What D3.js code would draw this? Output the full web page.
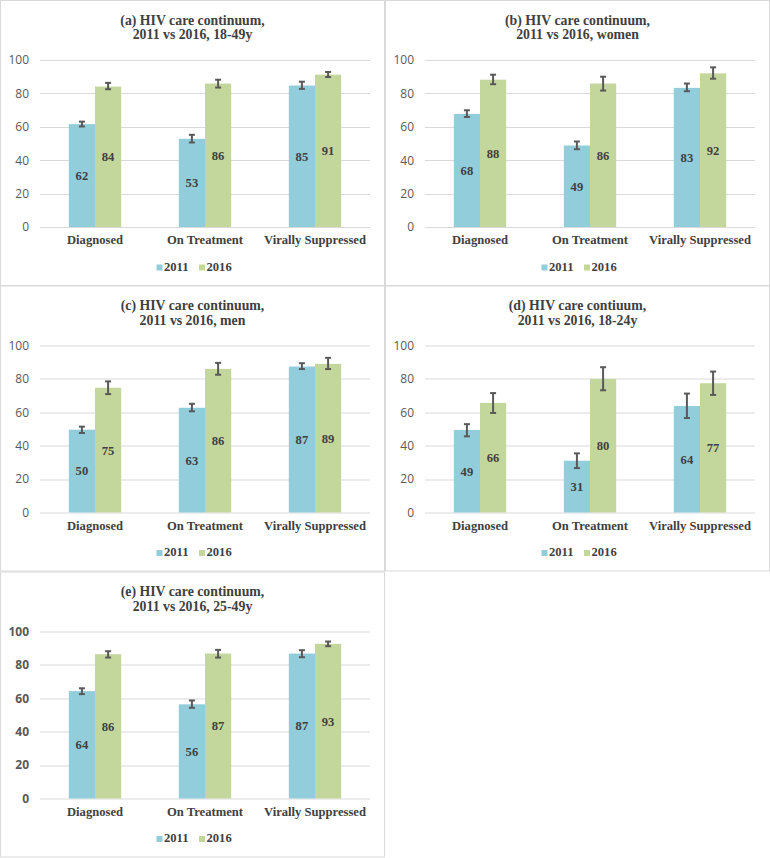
<!DOCTYPE html>
<html>
<head>
<meta charset="utf-8">
<script src="https://cdn.jsdelivr.net/npm/d3@7"></script>
<style>
  html, body { margin: 0; padding: 0; background: #ffffff; }
  svg { display: block; }
</style>
</head>
<body>
<svg id="chart" width="770" height="858"></svg>
<script>
// ---------------- DATA ----------------
const categories = ["Diagnosed", "On Treatment", "Virally Suppressed"];
const seriesNames = ["2011", "2016"];
const yTicks = [0, 20, 40, 60, 80, 100];

const titlesLine1 = [
  "(a) HIV care continuum,",
  "(b) HIV care continuum,",
  "(c) HIV care continuum,",
  "(d) HIV care contiuum,",
  "(e) HIV care continuum,"
];
const titlesLine2 = [
  "2011 vs 2016, 18-49y",
  "2011 vs 2016, women",
  "2011 vs 2016, men",
  "2011 vs 2016, 18-24y",
  "2011 vs 2016, 25-49y"
];

// point estimates (%)
const values2011 = [
  [61.6, 52.8, 84.7],
  [67.7, 48.8, 83.3],
  [49.6, 62.7, 87.4],
  [49.4, 31.0, 63.8],
  [64.3, 56.4, 86.8]
];
const values2016 = [
  [84.1, 85.9, 91.2],
  [88.2, 85.9, 92.0],
  [74.7, 86.0, 89.0],
  [65.6, 80.0, 77.4],
  [86.4, 86.8, 92.6]
];
// confidence intervals
const lower2011 = [
  [60.2, 50.6, 82.7],
  [65.9, 46.6, 81.3],
  [47.6, 60.6, 85.9],
  [45.6, 26.6, 56.6],
  [62.5, 54.3, 84.6]
];
const upper2011 = [
  [63.1, 55.2, 87.0],
  [69.9, 51.2, 85.9],
  [51.4, 65.1, 89.4],
  [52.9, 35.4, 71.2],
  [66.0, 58.7, 88.8]
];
const lower2016 = [
  [82.5, 83.5, 89.8],
  [85.5, 81.7, 88.8],
  [70.9, 82.5, 85.9],
  [59.6, 73.2, 70.4],
  [84.4, 84.4, 91.2]
];
const upper2016 = [
  [86.3, 88.2, 92.8],
  [91.2, 90.0, 95.6],
  [78.5, 89.6, 92.6],
  [71.5, 87.0, 84.4],
  [88.2, 89.0, 94.0]
];

// ---------------- LAYOUT ----------------
const colors = { "2011": "#92CDDC", "2016": "#C3D69B" };
const panelW = 385, panelH = 285.5;
const panelOrigins = [[0, 0], [385, 0], [0, 285.5], [385, 285.5], [0, 571.5]];
const boldTickPanels = [4];

const svg = d3.select("#chart");
const serif = "'Liberation Serif', 'Times New Roman', serif";
const sans = "'Open Sans', 'Liberation Sans', sans-serif";

panelOrigins.forEach(([ox, oy], pi) => {
  const g = svg.append("g").attr("transform", `translate(${ox},${oy})`);

  // border
  g.append("rect")
    .attr("x", 0.5).attr("y", 0.5)
    .attr("width", panelW - 1).attr("height", panelH - 0.5)
    .attr("fill", "#ffffff").attr("stroke", "#d9d9d9").attr("stroke-width", 1);

  // title
  g.append("text")
    .attr("x", 192.5).attr("y", 24.5)
    .attr("text-anchor", "middle")
    .attr("font-family", serif).attr("font-weight", "bold")
    .attr("font-size", "13.8px").attr("fill", "#404040")
    .text(titlesLine1[pi]);
  g.append("text")
    .attr("x", 192.5).attr("y", 39)
    .attr("text-anchor", "middle")
    .attr("font-family", serif).attr("font-weight", "bold")
    .attr("font-size", "13.8px").attr("fill", "#404040")
    .text(titlesLine2[pi]);

  const x0 = d3.scaleBand()
    .domain(categories)
    .range([40, 370])
    .paddingInner(0.524)
    .paddingOuter(0.262);
  const x1 = d3.scaleBand()
    .domain(seriesNames)
    .range([0, x0.bandwidth()])
    .padding(0);
  const y = d3.scaleLinear().domain([0, 100]).range([227, 60]);

  // grid lines
  g.append("g").selectAll("line")
    .data(yTicks).join("line")
    .attr("x1", 40).attr("x2", 370)
    .attr("y1", d => Math.round(y(d)) + 0.5).attr("y2", d => Math.round(y(d)) + 0.5)
    .attr("stroke", "#d9d9d9").attr("stroke-width", 1);

  // y axis labels via d3 axis
  const yAxis = d3.axisLeft(y).tickValues(yTicks).tickSize(0).tickPadding(0);
  const ya = g.append("g").attr("transform", "translate(29,0)").call(yAxis);
  ya.select(".domain").remove();
  ya.selectAll("text")
    .attr("font-family", sans)
    .attr("font-size", "12px")
    .attr("font-weight", boldTickPanels.includes(pi) ? "bold" : "normal")
    .attr("fill", "#595959");

  // x axis labels
  const xAxis = d3.axisBottom(x0).tickSize(0).tickPadding(0);
  const xa = g.append("g").attr("transform", "translate(0,232)").call(xAxis);
  xa.select(".domain").remove();
  xa.selectAll("text")
    .attr("font-family", serif).attr("font-weight", "bold")
    .attr("font-size", "12.6px").attr("fill", "#404040")
    .attr("dy", "0.71em").attr("y", 3.5);

  const rows = [];
  categories.forEach((c, ci) => {
    rows.push({ cat: c, s: "2011", v: values2011[pi][ci], lo: lower2011[pi][ci], hi: upper2011[pi][ci] });
    rows.push({ cat: c, s: "2016", v: values2016[pi][ci], lo: lower2016[pi][ci], hi: upper2016[pi][ci] });
  });

  // bars
  g.append("g").selectAll("rect")
    .data(rows).join("rect")
    .attr("x", d => x0(d.cat) + x1(d.s))
    .attr("y", d => y(d.v))
    .attr("width", x1.bandwidth())
    .attr("height", d => y(0) - y(d.v))
    .attr("fill", d => colors[d.s]);

  // data labels
  g.append("g").selectAll("text")
    .data(rows).join("text")
    .attr("x", d => x0(d.cat) + x1(d.s) + x1.bandwidth() / 2)
    .attr("y", d => (y(d.v) + y(0)) / 2)
    .attr("dy", "0.35em")
    .attr("text-anchor", "middle")
    .attr("font-family", serif).attr("font-weight", "bold")
    .attr("font-size", "12.6px").attr("fill", "#404040")
    .text(d => d3.format(".0f")(d.v));

  // error bars
  const eb = g.append("g").attr("stroke", "#595959").attr("stroke-width", 2).attr("fill", "none");
  rows.forEach(d => {
    const cx = x0(d.cat) + x1(d.s) + x1.bandwidth() / 2;
    eb.append("line").attr("x1", cx).attr("x2", cx).attr("y1", y(d.lo)).attr("y2", y(d.hi));
    eb.append("line").attr("x1", cx - 3).attr("x2", cx + 3).attr("y1", y(d.lo)).attr("y2", y(d.lo));
    eb.append("line").attr("x1", cx - 3).attr("x2", cx + 3).attr("y1", y(d.hi)).attr("y2", y(d.hi));
  });

  // legend
  const legendX = [156.5, 199];
  const lg = g.append("g");
  seriesNames.forEach((s, si) => {
    lg.append("rect")
      .attr("x", legendX[si]).attr("y", 264.5)
      .attr("width", 6).attr("height", 6)
      .attr("fill", colors[s]);
    lg.append("text")
      .attr("x", legendX[si] + 7.5).attr("y", 270.8)
      .attr("font-family", serif).attr("font-weight", "bold")
      .attr("font-size", "12.6px").attr("fill", "#404040")
      .text(s);
  });
});
</script>
</body>
</html>
